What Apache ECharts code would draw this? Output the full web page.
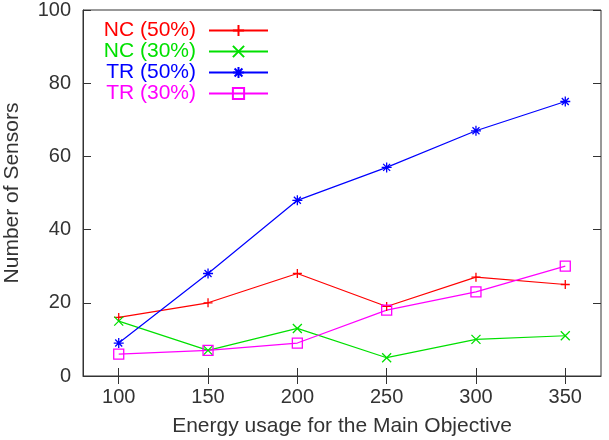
<!DOCTYPE html>
<html>
<head>
<meta charset="utf-8">
<script src="https://cdn.jsdelivr.net/npm/echarts@6/dist/echarts.min.js"></script>
<style>
  html, body { margin: 0; padding: 0; background: #fff; }
  #chart { width: 609px; height: 440px; }
</style>
</head>
<body>
<div id="chart"></div>
<script>
// energy usage (x) and sensor counts per scheme
var energy = [100, 150, 200, 250, 300, 350];
var nc50 = [16, 20, 28, 19, 27, 25];
var nc30 = [15, 7, 13, 5, 10, 11];
var tr50 = [9, 28, 48, 57, 67, 75];
var tr30 = [6, 7, 9, 18, 23, 30];

var FONT = 'Liberation Sans, Arial, sans-serif';

var seriesDefs = [
    { name: 'NC (50%)', data: nc50, color: '#ff0000', symbol: 'path://M0,5L10,5M5,0L5,10', size: 9 },
    { name: 'NC (30%)', data: nc30, color: '#00e000', symbol: 'path://M0,0L10,10M10,0L0,10', size: 9 },
    { name: 'TR (50%)', data: tr50, color: '#0000ff', symbol: 'path://M0,5L10,5M5,0L5,10M1.5,1.5L8.5,8.5M8.5,1.5L1.5,8.5', size: 10 },
    { name: 'TR (30%)', data: tr30, color: '#ff00ff', symbol: 'path://M0,0L10,0L10,10L0,10Z', size: 10 }
];

function pairs(ys) {
    return energy.map(function (x, i) { return [x, ys[i]]; });
}

var chart = echarts.init(document.getElementById('chart'));

// one legend box per entry so the entries line up on the right, like gnuplot
var legendTops = [20, 41, 62, 83];
var legends = seriesDefs.map(function (s, i) {
    return {
        data: [{ name: s.name, textStyle: { color: s.color } }],
        right: 340,
        top: legendTops[i],
        align: 'right',
        orient: 'vertical',
        itemWidth: 59,
        itemHeight: 14,
        padding: 0,
        selectedMode: false,
        textStyle: { fontFamily: FONT, fontSize: 21, padding: [0, 8, 0, 0] }
    };
});

var tickStyle = { color: '#333', fontFamily: FONT, fontSize: 20 };
var nameStyle = { color: '#333', fontFamily: FONT, fontSize: 21 };

var option = {
    backgroundColor: '#fff',
    animation: false,
    legend: legends,
    grid: {
        left: 83, right: 8, top: 10, bottom: 64,
        outerBoundsMode: 'none',
        show: true, borderColor: '#333', borderWidth: 1, backgroundColor: 'transparent'
    },
    xAxis: [{
        type: 'value',
        min: 80, max: 370,
        name: 'Energy usage for the Main Objective',
        nameLocation: 'middle',
        nameGap: 40,
        nameTextStyle: nameStyle,
        axisLine: { show: true, onZero: false, lineStyle: { color: '#333' } },
        axisTick: { inside: true, length: 8, customValues: energy, lineStyle: { color: '#333' } },
        axisLabel: Object.assign({ customValues: energy, margin: 11 }, tickStyle),
        splitLine: { show: false }
    }, {
        type: 'value',
        position: 'top',
        min: 80, max: 370,
        axisLine: { show: false },
        axisTick: { inside: true, length: 8, customValues: energy, lineStyle: { color: '#333' } },
        axisLabel: { show: false },
        splitLine: { show: false }
    }],
    yAxis: [{
        type: 'value',
        min: 0, max: 100, interval: 20,
        name: 'Number of Sensors',
        nameLocation: 'middle',
        nameGap: 60,
        nameTextStyle: nameStyle,
        axisLine: { show: true, lineStyle: { color: '#333' } },
        axisTick: { inside: true, length: 8, lineStyle: { color: '#333' } },
        axisLabel: Object.assign({ margin: 12 }, tickStyle),
        splitLine: { show: false }
    }, {
        type: 'value',
        position: 'right',
        min: 0, max: 100, interval: 20,
        axisLine: { show: false },
        axisTick: { show: true, inside: true, length: 8, lineStyle: { color: '#333' } },
        axisLabel: { show: false },
        splitLine: { show: false }
    }],
    series: seriesDefs.map(function (s) {
        return {
            name: s.name,
            type: 'line',
            data: pairs(s.data),
            symbol: s.symbol,
            symbolSize: s.size,
            showAllSymbol: true,
            lineStyle: { color: s.color, width: 1.2 },
            itemStyle: { color: 'rgba(0,0,0,0)', borderColor: s.color, borderWidth: 1.3 }
        };
    })
};

chart.setOption(option);
</script>
</body>
</html>
